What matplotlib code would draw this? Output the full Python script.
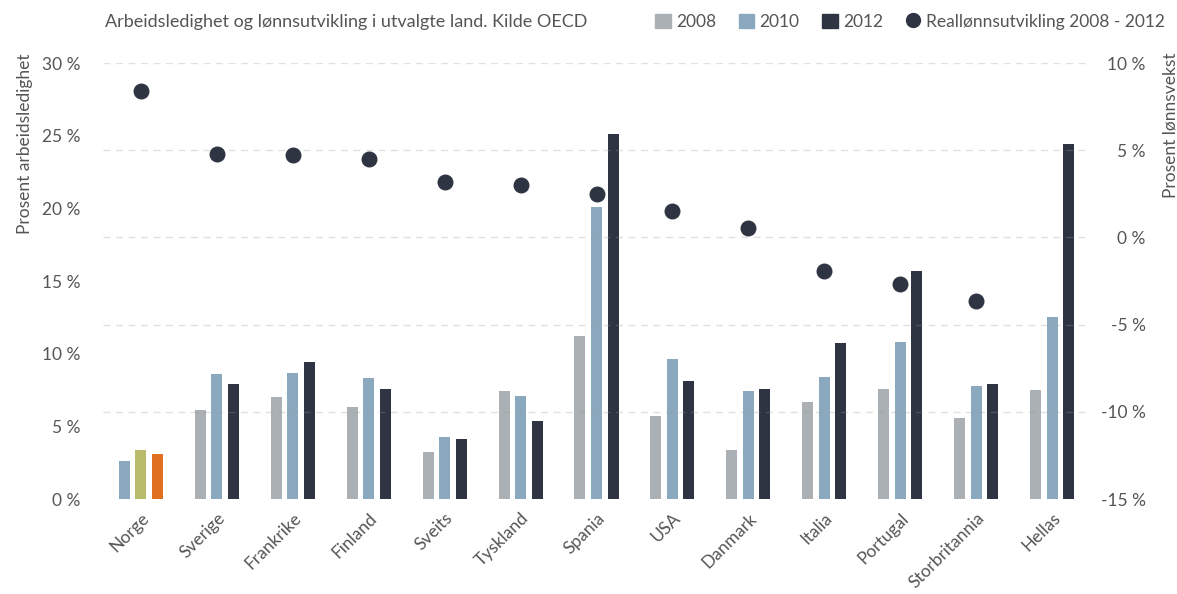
import numpy as np
import matplotlib
matplotlib.use("Agg")
from matplotlib import pyplot as plt
from matplotlib.patches import Patch
from matplotlib.lines import Line2D

plt.rcParams['font.family'] = ['Lato', 'DejaVu Sans']

# Data lest av figuren
land = ['Norge', 'Sverige', 'Frankrike', 'Finland', 'Sveits', 'Tyskland', 'Spania',
        'USA', 'Danmark', 'Italia', 'Portugal', 'Storbritannia', 'Hellas']
ledighet_2008 = [2.6, 6.1, 7.0, 6.3, 3.2, 7.4, 11.2, 5.7, 3.4, 6.7, 7.6, 5.6, 7.5]
ledighet_2010 = [3.4, 8.6, 8.7, 8.3, 4.3, 7.1, 20.1, 9.6, 7.4, 8.4, 10.8, 7.8, 12.5]
ledighet_2012 = [3.1, 7.9, 9.4, 7.6, 4.1, 5.4, 25.1, 8.1, 7.6, 10.7, 15.7, 7.9, 24.4]
reallonn = [8.4, 4.8, 4.7, 4.5, 3.2, 3.0, 2.5, 1.5, 0.55, -1.9, -2.65, -3.65, np.nan]

venstre_ticks = [0, 5, 10, 15, 20, 25, 30]
hoyre_ticks = [-15, -10, -5, 0, 5, 10]

GRA = '#aab0b3'
BLA = '#8aa9be'
MORK = '#2e3442'
TEKST = '#555555'

# Norge har egne farger
farger_2008 = ['#8aa9be'] + [GRA] * (len(land) - 1)
farger_2010 = ['#b8bb6a'] + [BLA] * (len(land) - 1)
farger_2012 = ['#e07020'] + [MORK] * (len(land) - 1)

fig = plt.figure(figsize=(11.77, 5.94), dpi=100)
ax = fig.add_axes([103 / 1177, 1 - 499 / 594, (1090 - 103) / 1177, (499 - 63) / 594])
ax2 = ax.twinx()

x = np.arange(len(land))
b = 0.145
d = 0.218
ax.bar(x - d, ledighet_2008, b, color=farger_2008, zorder=2)
ax.bar(x, ledighet_2010, b, color=farger_2010, zorder=2)
ax.bar(x + d, ledighet_2012, b, color=farger_2012, zorder=2)

ax2.scatter(x, reallonn, s=110, color=MORK, zorder=3)

ax.set_xlim(-0.5, len(land) - 0.5)
ax.set_ylim(0, 30)
ax2.set_ylim(-15, 10)
ax.set_yticks(venstre_ticks)
ax.set_yticklabels([f'{v} %' for v in venstre_ticks])
ax2.set_yticks(hoyre_ticks)
ax2.set_yticklabels([f'{v} %' for v in hoyre_ticks])

# stiplede rutenett over stolpene
for v in hoyre_ticks[1:]:
    ax2.axhline(v, color='#999999', alpha=0.3, lw=1, ls=(0, (5, 4)), zorder=1)

for a in (ax, ax2):
    for s in a.spines.values():
        s.set_visible(False)

ax.tick_params(axis='y', length=0, pad=16, labelsize=12.5, labelcolor=TEKST)
ax2.tick_params(axis='y', length=0, pad=40, labelsize=12.5, labelcolor=TEKST)
for t in ax2.get_yticklabels():
    t.set_horizontalalignment('right')

ax.set_xticks(x)
ax.set_xticklabels(land, rotation=45, ha='right', rotation_mode='anchor')
ax.tick_params(axis='x', length=0, pad=8, labelsize=12.5, labelcolor=TEKST)

fig.text(25 / 1177, 1 - 53 / 594, 'Prosent arbeidsledighet', rotation=90,
         ha='center', va='top', fontsize=12.5, color=TEKST)
fig.text(1170 / 1177, 1 - 53 / 594, 'Prosent lønnsvekst', rotation=90,
         ha='center', va='top', fontsize=12.5, color=TEKST)

fig.text(105 / 1177, 1 - 22 / 594, 'Arbeidsledighet og lønnsutvikling i utvalgte land. Kilde OECD',
         ha='left', va='center', fontsize=13, color=TEKST)

handles = [Patch(color=GRA), Patch(color=BLA), Patch(color=MORK),
           Line2D([], [], marker='o', ls='none', color=MORK, markersize=10)]
fig.legend(handles, ['2008', '2010', '2012', 'Reallønnsutvikling 2008 - 2012'],
           loc='center right', bbox_to_anchor=(1172 / 1177, 1 - 22 / 594), ncol=4,
           frameon=False, handlelength=0.9, handleheight=0.9, handletextpad=0.3,
           columnspacing=1.3, fontsize=12.5, labelcolor=TEKST, borderaxespad=0)

fig.savefig('out.png', dpi=100)
